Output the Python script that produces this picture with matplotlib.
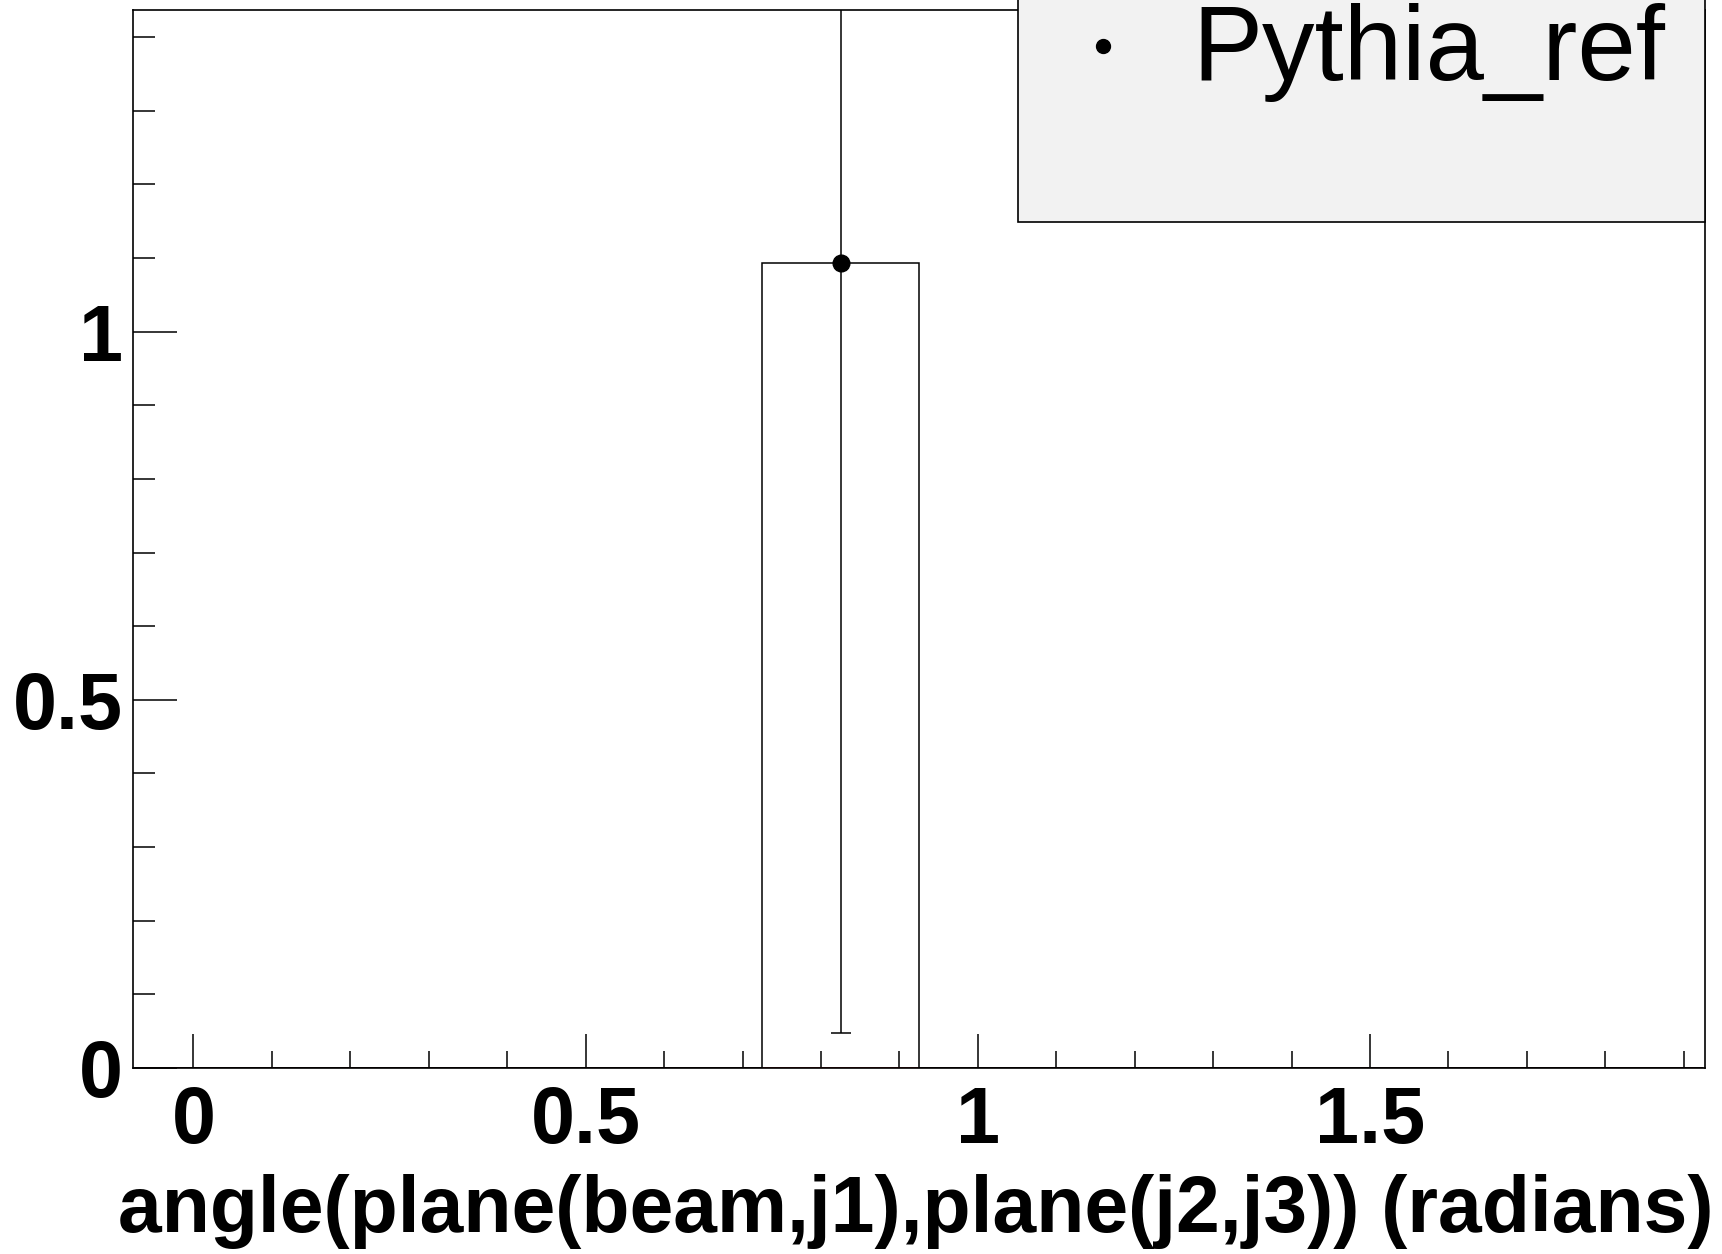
import numpy as np
import matplotlib
matplotlib.use("Agg")
import matplotlib.pyplot as plt
from matplotlib.patches import Rectangle
from matplotlib.lines import Line2D

# histogram: 10 bins of 0.2 rad, only one filled
bin_edges = [-0.075, 0.125, 0.325, 0.525, 0.725, 0.925, 1.125, 1.325, 1.525, 1.725, 1.925]
ref_counts = [0, 0, 0, 0, 1.094, 0, 0, 0, 0, 0]
ref_errors = [0, 0, 0, 0, 1.046, 0, 0, 0, 0, 0]
other_counts = [0, 0, 0, 0, 0, 0, 0, 0, 0, 0]

xticks_major = [0, 0.5, 1, 1.5]
yticks_major = [0, 0.5, 1]
xlabel = "angle(plane(beam,j1),plane(j2,j3)) (radians)"
legend_label = "Pythia_ref"

W, H = 1722, 1254
fig = plt.figure(figsize=(W / 100, H / 100), dpi=100)
ax = fig.add_axes([133 / W, 1 - 1068 / H, (1705 - 133) / W, (1068 - 10) / H])

edges = np.array(bin_edges)
centers = 0.5 * (edges[:-1] + edges[1:])
counts = np.array(ref_counts)
errs = np.array(ref_errors)

ax.stairs(other_counts, edges, color="#6b0000", lw=2.0, zorder=2)
ax.stairs(counts, edges, color="black", lw=1.1, zorder=3)
filled = counts > 0
ax.errorbar(centers[filled], counts[filled], yerr=errs[filled], fmt="o",
            color="black", ms=12, lw=1.1, capsize=7, capthick=1.1, zorder=4)

ax.set_xlim(-0.077, 1.927)
ax.set_ylim(0, 1.437)

ax.set_xticks(xticks_major)
ax.set_xticks(np.arange(0.1, 1.95, 0.1), minor=True)
ax.set_yticks(yticks_major)
ax.set_yticks(np.arange(0.1, 1.45, 0.1), minor=True)
ax.set_xticklabels(["0", "0.5", "1", "1.5"])
ax.set_yticklabels(["0", "0.5", "1"])

ax.tick_params(axis="x", which="major", direction="in", length=24.5, width=1.1, pad=12.5)
ax.tick_params(axis="x", which="minor", direction="in", length=12.6, width=1.1)
ax.tick_params(axis="y", which="major", direction="in", length=31.7, width=1.1, pad=7)
ax.tick_params(axis="y", which="minor", direction="in", length=15.8, width=1.1)
ax.tick_params(top=False, right=False, which="both")
for lab in ax.get_xticklabels() + ax.get_yticklabels():
    lab.set_fontfamily("Liberation Sans")
    lab.set_fontweight("bold")
    lab.set_fontsize(57)

for sp in ax.spines.values():
    sp.set_linewidth(1.2)

ax.set_xlabel(xlabel, fontsize=56.6, fontweight="bold", family="Liberation Sans",
              ha="right", va="baseline")
ax.xaxis.set_label_coords((1713 - 133) / (1705 - 133), (1068 - 1232) / (1068 - 10))

# legend box (runs off the top of the canvas)
fig.add_artist(Rectangle((1018 / W, 1 - 222 / H), (1705 - 1018) / W, 0.25,
                         transform=fig.transFigure, facecolor="#f2f2f2",
                         edgecolor="black", lw=1.2))
fig.add_artist(Line2D([1103 / W], [1 - 46 / H], marker="o", ms=10, color="black",
                      linestyle="none", transform=fig.transFigure))
fig.text(1192 / W, 1 - 80 / H, legend_label, fontsize=75.6, family="Liberation Sans",
         va="baseline", ha="left")

fig.savefig("out.png", dpi=100)
